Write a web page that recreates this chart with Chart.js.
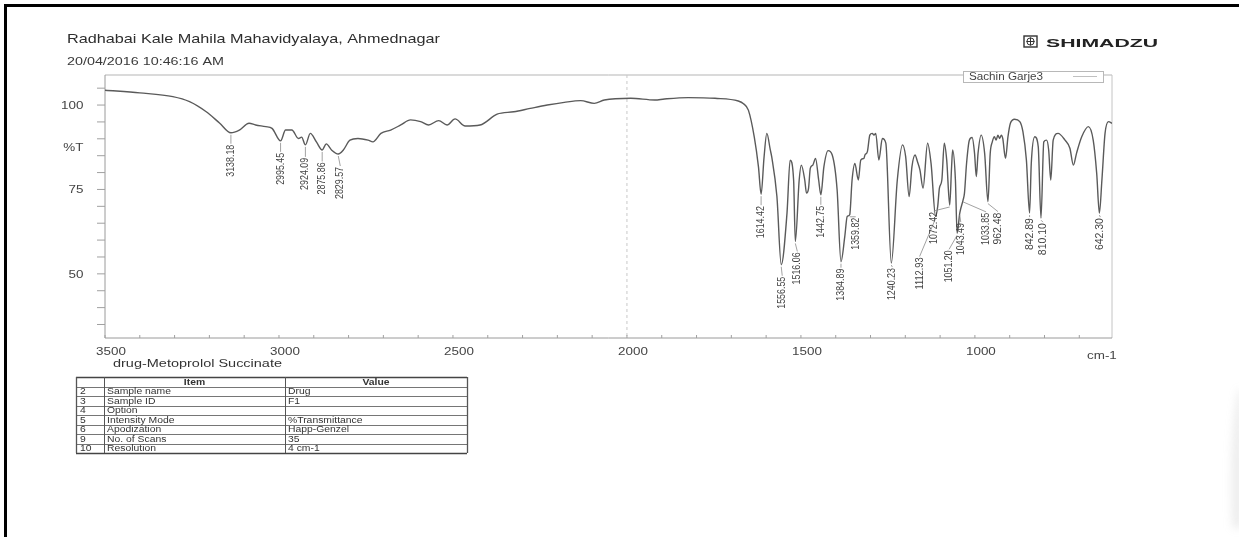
<!DOCTYPE html>
<html>
<head>
<meta charset="utf-8">
<script src="https://cdn.jsdelivr.net/npm/chart.js@4.4.1/dist/chart.umd.min.js"></script>
<style>
  html, body { margin: 0; padding: 0; background: #fff; overflow: hidden; }
  canvas { display: block; }
</style>
</head>
<body>
<canvas id="ir" width="1239" height="537"></canvas>
<script>
// FTIR spectrum of metoprolol succinate (%T against wavenumber, cm-1)
const wavenumbers = [
  3500, 3400, 3305, 3257, 3209, 3171, 3138.18, 3114, 3086, 3067, 3038, 3020,
  2995.45, 2981, 2963, 2944, 2935, 2924.09, 2910, 2892, 2875.86, 2864, 2849,
  2829.57, 2815, 2796, 2773, 2744, 2730, 2707, 2679, 2650, 2622, 2593, 2570,
  2541, 2517, 2494, 2465, 2422, 2373, 2325, 2278, 2229, 2180, 2133, 2094, 2065,
  1989, 1920, 1892, 1824, 1747, 1680, 1665, 1651, 1634, 1622, 1614.42, 1606,
  1598, 1588, 1584, 1569, 1556.55, 1540, 1531, 1521, 1516.06, 1505, 1499, 1489,
  1484, 1478, 1473, 1466, 1458, 1449, 1442.75, 1434, 1422, 1410, 1396, 1384.89,
  1374, 1367, 1359.82, 1353, 1345, 1335, 1328, 1319, 1316, 1309, 1302, 1295,
  1290, 1285, 1276, 1266, 1256, 1240.23, 1223, 1208, 1199, 1189, 1181, 1172,
  1165, 1158, 1149, 1136, 1126, 1112.93, 1107, 1102, 1095, 1088, 1081, 1072.42,
  1067, 1064, 1056, 1051.20, 1043.49, 1033.85, 1030, 1024, 1016, 1008, 1001, 996,
  991, 982, 972, 962.48, 956, 950, 944, 939, 934, 929, 924, 920, 912, 905, 898,
  886, 871, 862, 852, 842.89, 838, 828, 818, 810.10, 802, 794, 788, 782, 775,
  761, 741, 727, 717, 708, 693, 674, 660, 650, 642.30, 635, 626, 616, 606
];
const transmittance = [
  104.4, 103.6, 102.5, 101.0, 98.0, 94.7, 91.8, 92.6, 94.6, 94.1, 93.6, 93.1,
  89.4, 92.6, 92.6, 90.1, 90.5, 88.2, 91.6, 89.0, 86.7, 88.5, 86.7,
  85.5, 86.7, 89.6, 90.1, 89.6, 89.1, 91.6, 92.6, 94.1, 95.6, 95.1, 94.1,
  95.4, 94.1, 95.9, 93.8, 94.1, 97.3, 98.0, 99.0, 100.0, 100.8, 101.3, 100.5, 101.5,
  102.0, 101.5, 101.8, 102.2, 102.0, 101.2, 100.4, 98.5, 90.5, 81.7, 73.6, 84.5,
  91.6, 86.7, 84.7, 72.9, 52.7, 68.0, 83.7, 77.8, 59.6, 77.8, 82.2, 77.8,
  73.9, 75.4, 81.3, 82.2, 84.2, 77.8, 73.4, 81.7, 86.5, 85.2, 74.9, 53.6,
  61.0, 67.0, 67.5, 77.8, 82.7, 77.8, 83.7, 84.2, 85.2, 86.2, 91.1, 91.6,
  91.1, 91.6, 83.7, 90.1, 88.7, 53.2, 77.8, 88.2, 84.7, 72.9, 81.7, 85.2,
  83.2, 80.8, 75.4, 88.7, 82.7, 67.0, 69.9, 75.4, 77.8, 88.7, 83.7, 70.4,
  81.7, 86.7, 77.8, 62.0, 68.0, 71.9, 73.9, 82.7, 89.6, 90.4, 85.7, 78.8,
  85.7, 91.1, 85.7, 71.4, 85.7, 89.1, 90.6, 89.6, 91.1, 90.1, 91.1, 90.1, 84.2, 90.6, 94.6,
  95.8, 95.1, 92.1, 83.7, 68.0, 82.7, 90.6, 87.7, 66.5, 89.1, 89.6, 86.7, 77.8, 89.6,
  91.6, 89.6, 87.2, 82.2, 85.7, 90.6, 93.6, 89.6, 79.8, 68.0, 77.8, 91.6, 95.1, 94.6
];

const peakLabels = [
  3138.18, 2995.45, 2924.09, 2875.86, 2829.57, 1614.42, 1556.55, 1516.06,
  1442.75, 1384.89, 1359.82, 1240.23, 1112.93, 1072.42, 1051.20, 1043.49,
  1033.85, 962.48, 842.89, 810.10, 642.30
];

const xTickLabels = [3500, 3000, 2500, 2000, 1500, 1000];
const yTickLabels = [100, 75, 50];
const xRange = [606, 3500];
const yRange = [31, 108.9];

const sampleName = 'drug-Metoprolol Succinate';
const legendName = 'Sachin Garje3';
const tableHeader = ['', 'Item', 'Value'];
const tableRows = [
  ['2', 'Sample name', 'Drug'],
  ['3', 'Sample ID', 'F1'],
  ['4', 'Option', ''],
  ['5', 'Intensity Mode', '%Transmittance'],
  ['6', 'Apodization', 'Happ-Genzel'],
  ['9', 'No. of Scans', '35'],
  ['10', 'Resolution', '4 cm-1']
];

// label placement: [x shift, gap below the peak] in px
const labelPlacement = {
  '3138.18': [0, 12], '2995.45': [0, 12], '2924.09': [0, 13], '2875.86': [0, 12.5],
  '2829.57': [2, 13], '1614.42': [0, 12], '1556.55': [1, 12], '1516.06': [2, 11],
  '1442.75': [0, 11], '1384.89': [0, 7], '1359.82': [6, 3], '1240.23': [1, 5],
  '1112.93': [-16, 41], '1072.42': [-16, 7], '1051.20': [-8, 17], '1043.49': [1, 10],
  '1033.85': [23, 13], '962.48': [10, 11], '842.89': [0, 5], '810.10': [2, 5],
  '642.30': [1, 5]
};

const SANS = "'Liberation Sans', Arial, Helvetica, sans-serif";
const NARROW = "'Liberation Sans Narrow', 'Arial Narrow', 'Liberation Sans', sans-serif";
const SX = 1.22; // printed text is slightly wide

function txt(ctx, s, x, y, size, opt = {}) {
  ctx.save();
  ctx.font = (opt.weight || 'normal') + ' ' + size + 'px ' + (opt.family || SANS);
  ctx.fillStyle = opt.color || '#383838';
  ctx.textBaseline = opt.baseline || 'alphabetic';
  ctx.textAlign = opt.align || 'left';
  let sx = opt.sx || SX;
  if (opt.width) sx = opt.width / ctx.measureText(s).width;
  ctx.translate(x, y);
  ctx.scale(sx, 1);
  ctx.fillText(s, 0, 0);
  ctx.restore();
}

function line(ctx, x1, y1, x2, y2, color, w, dash) {
  ctx.save();
  ctx.strokeStyle = color;
  ctx.lineWidth = w;
  if (dash) ctx.setLineDash(dash);
  ctx.beginPath();
  ctx.moveTo(x1, y1);
  ctx.lineTo(x2, y2);
  ctx.stroke();
  ctx.restore();
}

const pagePlugin = {
  id: 'page',
  beforeDraw(chart) {
    const ctx = chart.ctx;
    const { left, right, top, bottom } = chart.chartArea;
    ctx.save();
    ctx.fillStyle = '#fff';
    ctx.fillRect(0, 0, chart.width, chart.height);

    // sheet edges
    ctx.fillStyle = '#000';
    ctx.fillRect(4, 4, 1235, 3);
    ctx.fillRect(4, 4, 3, 533);

    // shadow along the right margin of the sheet
    ctx.filter = 'blur(4px)';
    const g = ctx.createLinearGradient(1226, 0, 1239, 0);
    g.addColorStop(0, 'rgba(150,150,150,0)');
    g.addColorStop(1, 'rgba(150,150,150,0.22)');
    ctx.fillStyle = g;
    ctx.beginPath();
    ctx.moveTo(1239, 390);
    ctx.quadraticCurveTo(1226, 460, 1232, 528);
    ctx.lineTo(1242, 528);
    ctx.lineTo(1242, 390);
    ctx.closePath();
    ctx.fill();
    ctx.filter = 'none';
    ctx.restore();

    // header
    txt(ctx, 'Radhabai Kale Mahila Mahavidyalaya, Ahmednagar', 67, 43, 13, { width: 373, color: '#2e2e2e' });
    txt(ctx, '20/04/2016 10:46:16 AM', 67, 65, 10, { width: 157, color: '#3a3a3a' });

    // maker logo
    ctx.save();
    ctx.strokeStyle = '#333';
    ctx.lineWidth = 1.4;
    ctx.strokeRect(1024, 36, 13, 11);
    ctx.beginPath();
    ctx.arc(1030.5, 41.5, 3.6, 0, Math.PI * 2);
    ctx.moveTo(1026.5, 41.5); ctx.lineTo(1034.5, 41.5);
    ctx.moveTo(1030.5, 37.5); ctx.lineTo(1030.5, 45.5);
    ctx.lineWidth = 1;
    ctx.stroke();
    ctx.restore();
    txt(ctx, 'SHIMADZU', 1046, 47, 11, { weight: 'bold', width: 112, color: '#222' });

    // plot frame
    line(ctx, left, top, right, top, '#b5b5b5', 1);
    line(ctx, right, top, right, bottom, '#c4c4c4', 1);
    line(ctx, left, top, left, bottom, '#9a9a9a', 1);
    line(ctx, left, bottom, right, bottom, '#9a9a9a', 1);
  },
  beforeDatasetsDraw(chart) {
    const ctx = chart.ctx;
    const xs = chart.scales.x, ys = chart.scales.y;
    const { left, right, top, bottom } = chart.chartArea;

    // 2000 cm-1 guide line
    const gx = xs.getPixelForValue(2000);
    line(ctx, gx, top, gx, bottom, '#c8c8c8', 1, [3, 3]);

    // y ticks every 5 %T
    for (let v = 35; v <= 105; v += 5) {
      const y = ys.getPixelForValue(v);
      line(ctx, left - 8, y, left, y, '#a0a0a0', 1);
    }
    yTickLabels.forEach(v => {
      txt(ctx, String(v), left - 21.5, ys.getPixelForValue(v) + 4, 11, { align: 'right', color: '#444' });
    });
    txt(ctx, '%T', left - 21.5, ys.getPixelForValue(87.6) + 4, 11, { align: 'right', color: '#444' });

    // x ticks every 100 cm-1
    for (let v = 700; v <= 3500; v += 100) {
      const x = xs.getPixelForValue(v);
      line(ctx, x, bottom - 3, x, bottom, '#a0a0a0', 1);
    }
    xTickLabels.forEach(v => {
      txt(ctx, String(v), xs.getPixelForValue(v) + 6, bottom + 17, 11, { align: 'center', color: '#444' });
    });
    txt(ctx, 'cm-1', 1087, 359, 11, { color: '#444' });
    txt(ctx, sampleName, 113, 367, 11.5, { width: 169, color: '#333' });
  },
  afterDatasetsDraw(chart) {
    const ctx = chart.ctx;
    const xs = chart.scales.x, ys = chart.scales.y;

    // peak labels, written upwards below each band
    peakLabels.forEach(p => {
      const t = transmittance[wavenumbers.indexOf(p)];
      const px = xs.getPixelForValue(p);
      const py = ys.getPixelForValue(t);
      const key = p.toFixed(2);
      const [dx, gap] = labelPlacement[key] || [0, 11];
      const lx = px + dx, ly = py + gap;
      line(ctx, px, py + 2, lx, ly - 1, '#8a8a8a', 0.8);
      ctx.save();
      ctx.font = '9.5px ' + NARROW;
      ctx.fillStyle = '#444';
      ctx.textAlign = 'right';
      ctx.textBaseline = 'middle';
      const w = ctx.measureText(key).width;
      ctx.translate(lx, ly);
      ctx.rotate(-Math.PI / 2);
      ctx.scale(32 / w, 1.15);
      ctx.fillText(key, 0, 0);
      ctx.restore();
    });

    // legend box
    ctx.save();
    ctx.fillStyle = '#fff';
    ctx.fillRect(963, 71, 141, 11);
    ctx.strokeStyle = '#b8b8b8';
    ctx.lineWidth = 1;
    ctx.strokeRect(963.5, 71.5, 140, 11);
    ctx.restore();
    txt(ctx, legendName, 969, 80, 10, { width: 74, color: '#444' });
    line(ctx, 1073, 76.5, 1097, 76.5, '#c0c0c0', 1);
  },
  afterDraw(chart) {
    const ctx = chart.ctx;
    // acquisition table
    const cols = [76, 104, 285, 467];
    const top = 377, rowH = 9.5;
    const nRows = tableRows.length + 1;
    const bottom = top + rowH * nRows;
    for (let r = 0; r <= nRows; r++) {
      const y = Math.round(top + r * rowH) + 0.5;
      const outer = r === 0 || r === nRows;
      line(ctx, cols[0], y, cols[3], y, outer ? '#444' : '#666', outer ? 1.3 : 0.9);
    }
    cols.forEach((x, i) => {
      line(ctx, x + 0.5, top, x + 0.5, bottom, '#555', i === 0 || i === 3 ? 1.3 : 1);
    });
    txt(ctx, tableHeader[1], (cols[1] + cols[2]) / 2, top + 7.5, 8.5, { align: 'center', weight: 'bold', color: '#333' });
    txt(ctx, tableHeader[2], (cols[2] + cols[3]) / 2, top + 7.5, 8.5, { align: 'center', weight: 'bold', color: '#333' });
    tableRows.forEach((row, i) => {
      const y = top + rowH * (i + 1) + 7.5;
      txt(ctx, row[0], cols[0] + 4, y, 8.5, { color: '#333' });
      txt(ctx, row[1], cols[1] + 3, y, 8.5, { color: '#333' });
      txt(ctx, row[2], cols[2] + 3, y, 8.5, { color: '#333' });
    });
  }
};

new Chart(document.getElementById('ir'), {
  type: 'line',
  data: {
    datasets: [{
      label: legendName,
      data: wavenumbers.map((w, i) => ({ x: w, y: transmittance[i] })),
      borderColor: '#5a5a5a',
      borderWidth: 1.4,
      pointRadius: 0,
      cubicInterpolationMode: 'monotone',
      fill: false
    }]
  },
  options: {
    responsive: false,
    devicePixelRatio: 1,
    animation: false,
    layout: { padding: { left: 105, right: 127, top: 75, bottom: 199 } },
    plugins: { legend: { display: false }, tooltip: { enabled: false }, title: { display: false } },
    scales: {
      x: { type: 'linear', reverse: true, min: xRange[0], max: xRange[1], display: false },
      y: { type: 'linear', min: yRange[0], max: yRange[1], display: false }
    }
  },
  plugins: [pagePlugin]
});
</script>
</body>
</html>
